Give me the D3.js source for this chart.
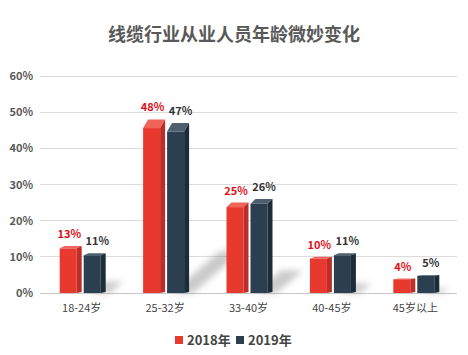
<!DOCTYPE html>
<html><head><meta charset="utf-8">
<script src="https://cdn.jsdelivr.net/npm/d3@7/dist/d3.min.js"></script>
<style>body{margin:0;background:#fff}svg{display:block;font-family:"Noto Sans CJK SC","Noto Sans",sans-serif}</style>
</head><body><svg id="c" width="468" height="355"></svg>
<script>
const title = "线缆行业从业人员年龄微妙变化";
const categories = ["18-24岁","25-32岁","33-40岁","40-45岁","45岁以上"];
const series2018 = [0.13,0.48,0.25,0.10,0.04];
const series2019 = [0.11,0.47,0.26,0.11,0.05];
const seriesNames = ["2018年","2019年"];
const yTicks = [0,0.1,0.2,0.3,0.4,0.5,0.6];

(function(){
const svg = d3.select("#c");
const pL=40,pR=457,pT=76,pB=293;
const y = d3.scaleLinear().domain([0,0.6]).range([pB,pT]);
const x = d3.scaleBand().domain(categories).range([pL,pR]).padding(0);

const defs = svg.append("defs");
defs.append("filter").attr("id","blur").attr("x","-50%").attr("y","-50%").attr("width","200%").attr("height","200%")
  .append("feGaussianBlur").attr("stdDeviation",3);

svg.append("text").attr("x",234).attr("y",41).attr("text-anchor","middle")
  .attr("font-size",18).attr("font-weight","bold").attr("fill","#595959").text(title);

svg.append("g").selectAll("line").data(yTicks).join("line")
  .attr("x1",pL).attr("x2",pR).attr("y1",d=>y(d)).attr("y2",d=>y(d))
  .attr("stroke",d=>d===0?"#c8c8c8":"#dcdcdc").attr("stroke-width",1).attr("shape-rendering","crispEdges");
svg.append("g").selectAll("text").data(yTicks).join("text")
  .attr("x",33).attr("y",d=>y(d)+4).attr("text-anchor","end")
  .attr("font-size",11).attr("font-weight","bold").attr("fill","#595959")
  .text(d=>d3.format(".0%")(d));

svg.append("g").selectAll("text").data(categories).join("text")
  .attr("x",d=>x(d)+x.bandwidth()/2).attr("y",312).attr("text-anchor","middle")
  .attr("font-size",11).attr("fill","#444").text(d=>d);

const bw=17, dx=5;
const styles=[
  {off:-22, front:"#e8392e", cap:"#f0645a", side:"#bf2e26", label:"#e0101a"},
  {off:2, front:"#2b3f50", cap:"#4d5f6e", side:"#1d2c39", label:"#333"}
];
const data=[];
categories.forEach((c,i)=>{
  [series2018[i],series2019[i]].forEach((v,s)=>data.push({c,v,s}));
});

const shadowG = svg.append("g").attr("filter","url(#blur)");
categories.forEach((c,i)=>{
  const v = Math.max(series2018[i],series2019[i]);
  const h = pB - y(v);
  const x0 = x(c)+x.bandwidth()/2+2;
  const sx=0.28*h, sy=0.24*h;
  shadowG.append("polygon")
    .attr("points",[[x0+4,pB],[x0+bw+dx+4,pB],[x0+bw+dx+4+sx,pB-sy],[x0+4+sx,pB-sy]].map(p=>p.join(",")).join(" "))
    .attr("fill","#8a8a8a").attr("opacity",0.45);
});

const bars = svg.append("g");
data.forEach(d=>{
  const st=styles[d.s];
  const x0 = x(d.c)+x.bandwidth()/2+st.off;
  const yt = y(d.v);
  const ch = 0.05*(pB-yt);
  const g = bars.append("g");
  g.append("rect").attr("x",x0).attr("y",yt+ch).attr("width",bw).attr("height",pB-yt-ch).attr("fill",st.front);
  g.append("polygon").attr("points",[[x0,yt+ch],[x0+dx,yt],[x0+bw+dx,yt],[x0+bw,yt+ch]].map(p=>p.join(",")).join(" ")).attr("fill",st.cap);
  g.append("polygon").attr("points",[[x0+bw,yt+ch],[x0+bw+dx,yt],[x0+bw+dx,pB-1],[x0+bw,pB]].map(p=>p.join(",")).join(" ")).attr("fill",st.side);
  g.append("text").attr("x",x0+bw/2+(d.s?5:1)).attr("y",yt-8).attr("text-anchor","middle")
    .attr("font-size",11).attr("font-weight","bold").attr("fill",st.label).text(d3.format(".0%")(d.v));
});

const lg = svg.append("g");
const lx=[175,236];
seriesNames.forEach((n,i)=>{
  lg.append("rect").attr("x",lx[i]).attr("y",336).attr("width",8).attr("height",8).attr("fill",styles[i].front);
  lg.append("text").attr("x",lx[i]+12).attr("y",344.5).attr("font-size",13).attr("font-weight","bold").attr("fill","#444").text(n);
});
})();
</script></body></html>
